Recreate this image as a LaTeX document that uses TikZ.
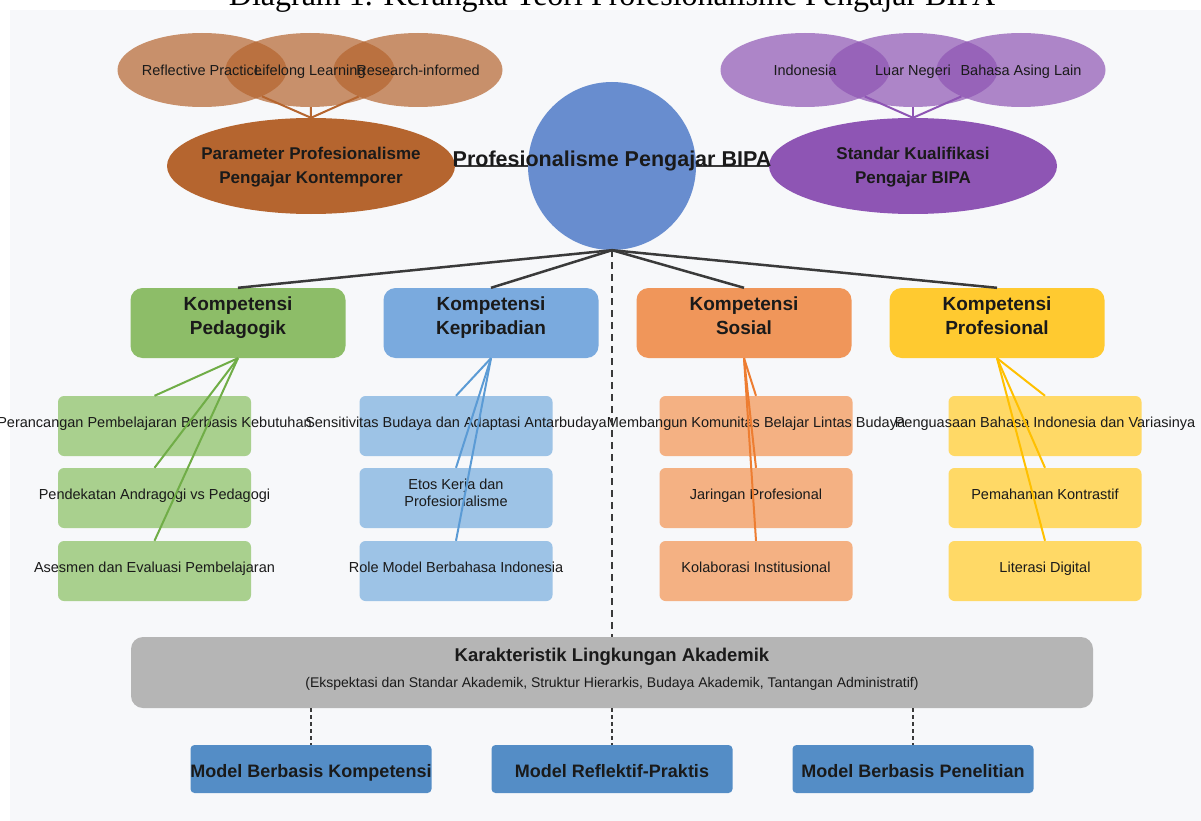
\documentclass[tikz,border=0pt]{standalone}
\usepackage{fontspec}
\setmainfont{Liberation Sans}
\newfontfamily\captionserif{Liberation Serif}
\usetikzlibrary{shapes.geometric}

\definecolor{bgcol}{RGB}{247,248,250}
\definecolor{inkc}{RGB}{26,26,26}
\definecolor{linec}{RGB}{58,58,58}
\definecolor{brownc}{RGB}{181,101,47}
\definecolor{purplec}{RGB}{142,85,180}
\definecolor{corec}{RGB}{104,141,207}
\definecolor{greenc}{RGB}{141,189,104}
\definecolor{greenl}{RGB}{169,208,142}
\definecolor{greend}{RGB}{112,173,71}
\definecolor{bluec}{RGB}{122,170,222}
\definecolor{bluel}{RGB}{157,195,230}
\definecolor{blued}{RGB}{91,155,213}
\definecolor{orangec}{RGB}{240,150,90}
\definecolor{orangel}{RGB}{244,177,131}
\definecolor{oranged}{RGB}{237,125,49}
\definecolor{yellowc}{RGB}{255,202,48}
\definecolor{yellowl}{RGB}{255,217,102}
\definecolor{yellowd}{RGB}{255,192,0}
\definecolor{grayc}{RGB}{181,181,181}
\definecolor{modelc}{RGB}{84,141,198}

\begin{document}
\begin{tikzpicture}[x=1pt,y=-1pt,
    smallell/.style={ellipse, minimum width=169pt, minimum height=74pt, inner sep=0pt, fill opacity=0.7},
    bigell/.style={ellipse, minimum width=288pt, minimum height=96pt, inner sep=0pt},
    kbox/.style={rectangle, rounded corners=12pt, minimum width=215pt, minimum height=70pt, inner sep=0pt},
    subbox/.style={rectangle, rounded corners=6pt, minimum width=193pt, minimum height=60pt, inner sep=0pt},
    modelbox/.style={rectangle, rounded corners=4pt, fill=modelc, minimum width=241pt, minimum height=48pt, inner sep=0pt},
    txt/.style={inner sep=0pt, text=inkc, align=center, execute at begin node=\strut, execute at end node=\strut},
    smalltxt/.style={txt, font=\fontsize{14.5}{17}\selectfont},
    bigtxt/.style={txt, font=\bfseries\fontsize{17}{23.5}\selectfont},
    ktxt/.style={txt, font=\bfseries\fontsize{19}{24}\selectfont},
    subtxt/.style={txt, font=\fontsize{14.5}{17}\selectfont},
    modeltxt/.style={txt, font=\bfseries\fontsize{18}{21.6}\selectfont},
    stem/.style={draw=linec, line width=2.5pt},
    twig/.style={line width=2pt},
    dashline/.style={draw=linec, line width=2.5pt, dash pattern=on 7pt off 5pt},
    dashshort/.style={draw=linec, line width=2pt, dash pattern=on 4pt off 3pt}]

    % Page and caption
    \useasboundingbox (0,0) rectangle (1201,821);
    \fill[bgcol] (10,10) rectangle (1201,821);
    \node[font=\captionserif\fontsize{32}{36}\selectfont, anchor=base, inner sep=0pt] (caption) at (612,6)
        {Diagram 1. Kerangka Teori Profesionalisme Pengajar BIPA};

    % Parameter (left)
    \node[smallell, fill=brownc] (refl) at (202,70) {};
    \node[smallell, fill=brownc] (life) at (310,70) {};
    \node[smallell, fill=brownc] (research) at (418,70) {};
    \node[smalltxt] (refl-t) at (202,72.6) {Reflective Practice};
    \node[smalltxt] (life-t) at (310,72.6) {Lifelong Learning};
    \node[smalltxt] (research-t) at (418,72.6) {Research-informed};
    \node[bigell, fill=brownc] (param) at (311,166) {};
    \node[bigtxt] (param-t) at (311,169) {Parameter Profesionalisme\\Pengajar Kontemporer};
    \draw[twig, brownc] (refl) -- (param.north);
    \draw[twig, brownc] (life) -- (param.north);
    \draw[twig, brownc] (research) -- (param.north);

    % Standar (right)
    \node[smallell, fill=purplec] (indo) at (805,70) {};
    \node[smallell, fill=purplec] (luar) at (913,70) {};
    \node[smallell, fill=purplec] (asing) at (1021,70) {};
    \node[smalltxt] (indo-t) at (805,72.6) {Indonesia};
    \node[smalltxt] (luar-t) at (913,72.6) {Luar Negeri};
    \node[smalltxt] (asing-t) at (1021,72.6) {Bahasa Asing Lain};
    \node[bigell, fill=purplec] (standar) at (913,166) {};
    \node[bigtxt] (standar-t) at (913,169) {Standar Kualifikasi\\Pengajar BIPA};
    \draw[twig, purplec] (indo) -- (standar.north);
    \draw[twig, purplec] (luar) -- (standar.north);
    \draw[twig, purplec] (asing) -- (standar.north);

    % Core
    \node[circle, fill=corec, minimum size=168pt, inner sep=0pt] (core) at (612,166) {};
    \draw[stem] (param.east) -- (core.west);
    \draw[stem] (core.east) -- (standar.west);
    \node[txt, font=\bfseries\fontsize{21.5}{25}\selectfont] (core-t) at (612,162) {Profesionalisme Pengajar BIPA};

    % Kompetensi
    \node[kbox, fill=greenc] (kped) at (238,323) {};
    \node[kbox, fill=bluec] (kkep) at (491,323) {};
    \node[kbox, fill=orangec] (ksos) at (744,323) {};
    \node[kbox, fill=yellowc] (kpro) at (997,323) {};
    \node[ktxt] (kped-t) at (238,319.2) {Kompetensi\\Pedagogik};
    \node[ktxt] (kkep-t) at (491,319.2) {Kompetensi\\Kepribadian};
    \node[ktxt] (ksos-t) at (744,319.2) {Kompetensi\\Sosial};
    \node[ktxt] (kpro-t) at (997,319.2) {Kompetensi\\Profesional};
    \draw[stem] (core.south) -- (kped.north);
    \draw[stem] (core.south) -- (kkep.north);
    \draw[stem] (core.south) -- (ksos.north);
    \draw[stem] (core.south) -- (kpro.north);

    % Sub kompetensi
    \node[subbox, fill=greenl] (ped1) at (154.5,426) {};
    \node[subbox, fill=greenl] (ped2) at (154.5,498) {};
    \node[subbox, fill=greenl] (ped3) at (154.5,571) {};
    \node[subbox, fill=bluel] (kep1) at (456,426) {};
    \node[subbox, fill=bluel] (kep2) at (456,498) {};
    \node[subbox, fill=bluel] (kep3) at (456,571) {};
    \node[subbox, fill=orangel] (sos1) at (756,426) {};
    \node[subbox, fill=orangel] (sos2) at (756,498) {};
    \node[subbox, fill=orangel] (sos3) at (756,571) {};
    \node[subbox, fill=yellowl] (pro1) at (1045,426) {};
    \node[subbox, fill=yellowl] (pro2) at (1045,498) {};
    \node[subbox, fill=yellowl] (pro3) at (1045,571) {};

    \node[subtxt] (ped1-t) at (154.5,423.6) {Perancangan Pembelajaran Berbasis Kebutuhan};
    \node[subtxt] (ped2-t) at (154.5,495.6) {Pendekatan Andragogi vs Pedagogi};
    \node[subtxt] (ped3-t) at (154.5,568.6) {Asesmen dan Evaluasi Pembelajaran};
    \node[subtxt] (kep1-t) at (456,423.6) {Sensitivitas Budaya dan Adaptasi Antarbudaya};
    \node[subtxt] (kep2-t) at (456,495.1) {Etos Kerja dan\\Profesionalisme};
    \node[subtxt] (kep3-t) at (456,568.6) {Role Model Berbahasa Indonesia};
    \node[subtxt] (sos1-t) at (756,423.6) {Membangun Komunitas Belajar Lintas Budaya};
    \node[subtxt] (sos2-t) at (756,495.6) {Jaringan Profesional};
    \node[subtxt] (sos3-t) at (756,568.6) {Kolaborasi Institusional};
    \node[subtxt] (pro1-t) at (1045,423.6) {Penguasaan Bahasa Indonesia dan Variasinya};
    \node[subtxt] (pro2-t) at (1045,495.6) {Pemahaman Kontrastif};
    \node[subtxt] (pro3-t) at (1045,568.6) {Literasi Digital};

    \draw[twig, greend] (kped.south) -- (ped1.north);
    \draw[twig, greend] (kped.south) -- (ped2.north);
    \draw[twig, greend] (kped.south) -- (ped3.north);
    \draw[twig, blued] (kkep.south) -- (kep1.north);
    \draw[twig, blued] (kkep.south) -- (kep2.north);
    \draw[twig, blued] (kkep.south) -- (kep3.north);
    \draw[twig, oranged] (ksos.south) -- (sos1.north);
    \draw[twig, oranged] (ksos.south) -- (sos2.north);
    \draw[twig, oranged] (ksos.south) -- (sos3.north);
    \draw[twig, yellowd] (kpro.south) -- (pro1.north);
    \draw[twig, yellowd] (kpro.south) -- (pro2.north);
    \draw[twig, yellowd] (kpro.south) -- (pro3.north);

    % Lingkungan akademik
    \node[rectangle, rounded corners=12pt, fill=grayc, minimum width=962pt, minimum height=71pt, inner sep=0pt] (akad) at (612,672.5) {};
    \node[txt, font=\bfseries\fontsize{18.5}{22}\selectfont] (akad-t) at (612,657.3) {Karakteristik Lingkungan Akademik};
    \node[txt, font=\fontsize{14}{16.5}\selectfont] (akad-s) at (612,683.7)
        {(Ekspektasi dan Standar Akademik, Struktur Hierarkis, Budaya Akademik, Tantangan Administratif)};
    \draw[dashline] (core.south) -- (akad.north);

    % Model
    \node[modelbox] (mkomp) at (311,769) {};
    \node[modelbox] (mrefl) at (612,769) {};
    \node[modelbox] (mpenel) at (913,769) {};
    \node[modeltxt] (mkomp-t) at (311,772.7) {Model Berbasis Kompetensi};
    \node[modeltxt] (mrefl-t) at (612,772.7) {Model Reflektif-Praktis};
    \node[modeltxt] (mpenel-t) at (913,772.7) {Model Berbasis Penelitian};
    \draw[dashshort] (akad.south -| mkomp) -- (mkomp.north);
    \draw[dashshort] (akad.south -| mrefl) -- (mrefl.north);
    \draw[dashshort] (akad.south -| mpenel) -- (mpenel.north);

\end{tikzpicture}
\end{document}
